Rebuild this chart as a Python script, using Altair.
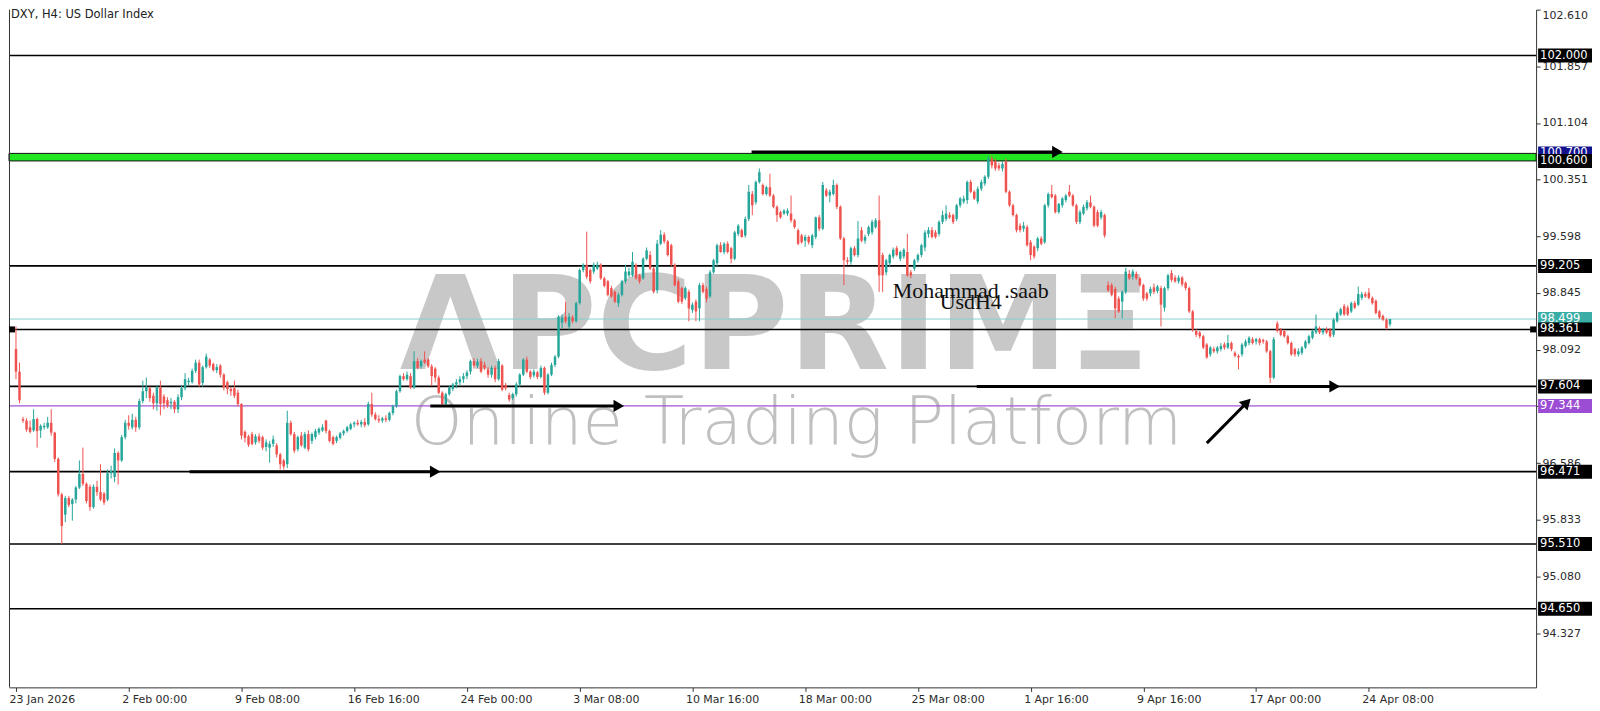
import altair as alt
import pandas as pd

# ---------------- candle data (open, high, low, close), H4 bars ----------------
seg_late_jan = [
    (98.10, 98.40, 97.70, 97.80), (97.80, 97.92, 97.38, 97.42), (97.17, 97.20, 97.12, 97.15),
    (97.15, 97.18, 97.00, 97.03), (97.06, 97.15, 96.98, 97.00), (97.02, 97.30, 97.00, 97.17),
    (97.17, 97.19, 96.79, 97.01), (97.02, 97.10, 96.92, 97.08), (97.06, 97.12, 97.03, 97.08),
    (97.06, 97.20, 97.04, 97.12), (97.12, 97.30, 96.95, 96.99), (96.99, 97.00, 96.60, 96.64),
    (96.64, 96.66, 96.14, 96.17), (96.17, 96.19, 95.51, 95.75), (95.90, 96.15, 95.80, 96.12),
    (96.12, 96.15, 96.00, 96.03), (96.04, 96.12, 95.82, 96.10), (96.10, 96.28, 96.05, 96.26),
    (96.26, 96.62, 96.24, 96.44), (96.44, 96.79, 96.28, 96.31), (96.31, 96.33, 96.05, 96.08),
    (96.27, 96.30, 95.95, 96.00), (96.00, 96.30, 95.98, 96.27), (96.27, 96.35, 96.15, 96.20),
    (96.20, 96.57, 96.08, 96.10), (96.18, 96.20, 96.03, 96.06), (96.10, 96.50, 96.08, 96.45),
    (96.45, 96.55, 96.38, 96.48), (96.40, 96.78, 96.33, 96.72), (96.72, 96.74, 96.30, 96.62),
    (96.62, 96.96, 96.60, 96.93), (96.93, 97.16, 96.90, 97.12), (97.12, 97.22, 97.03, 97.08),
    (97.06, 97.24, 97.03, 97.16), (97.16, 97.20, 97.00, 97.06), (97.06, 97.44, 97.03, 97.41),
    (97.41, 97.68, 97.38, 97.54), (97.54, 97.72, 97.45, 97.60), (97.58, 97.60, 97.40, 97.45),
    (97.48, 97.52, 97.30, 97.38), (97.38, 97.62, 97.28, 97.59), (97.59, 97.68, 97.22, 97.37),
    (97.47, 97.50, 97.30, 97.38), (97.42, 97.46, 97.32, 97.35), (97.38, 97.45, 97.30, 97.40),
    (97.40, 97.42, 97.25, 97.30), (97.30, 97.50, 97.25, 97.46), (97.46, 97.62, 97.42, 97.58),
    (97.58, 97.78, 97.55, 97.70), (97.66, 97.72, 97.62, 97.68), (97.66, 97.84, 97.64, 97.81),
    (97.81, 97.96, 97.78, 97.92), (97.92, 97.96, 97.60, 97.63), (97.65, 97.88, 97.60, 97.86),
    (97.86, 98.04, 97.84, 98.00), (97.96, 97.98, 97.85, 97.88), (97.90, 97.92, 97.80, 97.82),
    (97.82, 97.90, 97.78, 97.86), (97.88, 97.90, 97.72, 97.76), (97.76, 97.78, 97.55, 97.59),
    (97.66, 97.68, 97.50, 97.57), (97.57, 97.60, 97.48, 97.54), (97.58, 97.68, 97.45, 97.48),
    (97.52, 97.56, 97.34, 97.37), (97.37, 97.38, 96.90, 96.95), (97.00, 97.02, 96.86, 96.92),
    (96.94, 96.96, 96.80, 96.83),
]
seg_feb = [
    (96.97, 97.00, 96.82, 96.84), (96.86, 96.97, 96.83, 96.94), (96.94, 96.98, 96.85, 96.88),
    (96.93, 96.95, 96.76, 96.79), (96.80, 96.90, 96.74, 96.86), (96.79, 96.88, 96.59, 96.84),
    (96.84, 96.95, 96.80, 96.90), (96.82, 96.85, 96.66, 96.70), (96.70, 96.72, 96.50, 96.57),
    (96.62, 96.64, 96.50, 96.54), (96.57, 97.28, 96.52, 97.12), (97.12, 97.15, 96.95, 96.97),
    (96.97, 97.00, 96.72, 96.75), (96.77, 96.95, 96.74, 96.93), (96.95, 97.00, 96.80, 96.82),
    (96.79, 97.00, 96.77, 96.97), (96.97, 97.02, 96.74, 96.77), (96.88, 96.99, 96.84, 96.97),
    (96.93, 97.04, 96.90, 97.01), (96.99, 97.06, 96.96, 97.04), (97.02, 97.10, 97.00, 97.06),
    (97.15, 97.16, 96.98, 97.01), (97.01, 97.03, 96.86, 96.88), (96.93, 96.95, 96.82, 96.84),
    (96.88, 96.95, 96.85, 96.93), (96.92, 97.00, 96.90, 96.98), (96.98, 97.03, 96.95, 97.01),
    (97.01, 97.08, 96.99, 97.06), (97.04, 97.12, 97.02, 97.10), (97.10, 97.14, 97.06, 97.12),
    (97.12, 97.16, 97.08, 97.10), (97.10, 97.16, 97.06, 97.13), (97.13, 97.18, 97.06, 97.09),
    (97.10, 97.40, 97.08, 97.37), (97.37, 97.52, 97.20, 97.23), (97.23, 97.26, 97.15, 97.17),
    (97.17, 97.22, 97.12, 97.15), (97.15, 97.20, 97.12, 97.18), (97.18, 97.22, 97.13, 97.16),
    (97.16, 97.27, 97.14, 97.25), (97.25, 97.36, 97.22, 97.34), (97.34, 97.56, 97.32, 97.54),
    (97.54, 97.76, 97.52, 97.74), (97.74, 97.78, 97.68, 97.70), (97.70, 97.80, 97.68, 97.76),
    (97.74, 97.78, 97.57, 97.59), (97.59, 98.07, 97.57, 97.94), (97.94, 97.98, 97.83, 97.85),
    (97.87, 97.96, 97.84, 97.94), (97.96, 98.07, 97.90, 97.92), (97.96, 97.98, 97.85, 97.87),
    (97.87, 97.90, 97.61, 97.74), (97.84, 97.86, 97.66, 97.72), (97.72, 97.75, 97.50, 97.52),
    (97.52, 97.54, 97.34, 97.37), (97.37, 97.52, 97.33, 97.50), (97.50, 97.61, 97.48, 97.59),
    (97.57, 97.65, 97.54, 97.63), (97.63, 97.70, 97.58, 97.66), (97.66, 97.74, 97.62, 97.70),
    (97.70, 97.78, 97.65, 97.74), (97.74, 97.82, 97.70, 97.79), (97.80, 97.96, 97.76, 97.94),
    (97.94, 97.98, 97.84, 97.88), (97.88, 97.97, 97.85, 97.93),
]
seg_early_mar = [
    (97.94, 97.98, 97.78, 97.80), (97.89, 97.93, 97.82, 97.85), (97.83, 97.86, 97.72, 97.76),
    (97.76, 97.88, 97.72, 97.85), (97.85, 97.88, 97.66, 97.70), (97.70, 97.97, 97.68, 97.94),
    (97.88, 97.90, 97.54, 97.56), (97.62, 97.65, 97.55, 97.58), (97.49, 97.52, 97.40, 97.43),
    (97.45, 97.52, 97.42, 97.50), (97.50, 97.66, 97.47, 97.63), (97.63, 97.78, 97.60, 97.76),
    (97.76, 97.98, 97.74, 97.96), (97.96, 98.00, 97.78, 97.80), (97.80, 97.82, 97.70, 97.73),
    (97.75, 97.83, 97.72, 97.80), (97.79, 97.81, 97.70, 97.73), (97.73, 97.88, 97.71, 97.85),
    (97.85, 97.87, 97.49, 97.52), (97.52, 97.78, 97.50, 97.76), (97.76, 97.92, 97.74, 97.89),
    (97.89, 98.02, 97.86, 98.00), (98.00, 98.55, 97.98, 98.53), (98.45, 98.56, 98.38, 98.52),
    (98.53, 98.73, 98.44, 98.47), (98.40, 98.58, 98.36, 98.53), (98.52, 98.55, 98.44, 98.47),
    (98.47, 98.73, 98.45, 98.71), (98.71, 99.17, 98.69, 99.15), (99.15, 99.24, 99.12, 99.22),
    (99.22, 99.66, 99.03, 99.06), (99.15, 99.17, 98.97, 99.00), (99.13, 99.25, 99.10, 99.22),
    (99.17, 99.26, 99.15, 99.22), (99.22, 99.24, 99.02, 99.04), (99.04, 99.06, 98.92, 98.94),
    (99.00, 99.02, 98.80, 98.82), (98.91, 98.94, 98.78, 98.80), (98.86, 98.88, 98.71, 98.73),
    (98.71, 98.85, 98.66, 98.82), (98.82, 99.02, 98.80, 99.00), (99.00, 99.22, 98.97, 99.13),
    (99.08, 99.18, 99.05, 99.13), (99.08, 99.39, 99.06, 99.26), (99.22, 99.24, 99.02, 99.04),
    (99.08, 99.10, 98.97, 99.00), (99.04, 99.32, 99.02, 99.30), (99.30, 99.45, 99.28, 99.41),
    (99.35, 99.40, 99.15, 99.17), (99.17, 99.19, 98.84, 98.86), (98.88, 99.55, 98.84, 99.50),
    (99.50, 99.68, 99.48, 99.62), (99.62, 99.65, 99.50, 99.53), (99.53, 99.55, 99.33, 99.35),
    (99.48, 99.50, 99.20, 99.22), (99.22, 99.24, 98.93, 98.95), (99.00, 99.03, 98.71, 98.73),
    (98.91, 98.93, 98.70, 98.73), (98.78, 98.93, 98.75, 98.91), (98.86, 98.89, 98.47, 98.64),
    (98.62, 98.72, 98.58, 98.69), (98.73, 98.76, 98.47, 98.60), (98.64, 98.98, 98.47, 98.95),
    (98.95, 98.98, 98.84, 98.86), (98.90, 98.93, 98.72, 98.77),
]
seg_mid_mar = [
    (98.80, 99.15, 98.78, 99.12), (99.12, 99.30, 99.10, 99.28), (99.24, 99.50, 99.20, 99.48),
    (99.48, 99.52, 99.38, 99.39), (99.39, 99.52, 99.36, 99.50), (99.50, 99.53, 99.37, 99.39),
    (99.44, 99.46, 99.24, 99.30), (99.30, 99.67, 99.28, 99.65), (99.63, 99.76, 99.60, 99.74),
    (99.68, 99.70, 99.58, 99.59), (99.61, 99.86, 99.58, 99.83), (99.83, 100.28, 99.80, 100.19),
    (100.16, 100.20, 99.88, 100.01), (100.05, 100.34, 100.02, 100.32), (100.32, 100.50, 100.30, 100.45),
    (100.28, 100.30, 100.14, 100.16), (100.16, 100.27, 100.14, 100.25), (100.25, 100.43, 100.12, 100.14),
    (100.14, 100.16, 99.97, 99.99), (99.99, 100.01, 99.79, 99.88), (99.92, 99.94, 99.83, 99.85),
    (99.90, 99.96, 99.88, 99.94), (99.90, 99.97, 99.87, 99.94), (99.90, 100.14, 99.78, 99.81),
    (99.81, 99.83, 99.70, 99.72), (99.68, 99.70, 99.48, 99.50), (99.61, 99.63, 99.50, 99.52),
    (99.54, 99.62, 99.46, 99.59), (99.59, 99.61, 99.49, 99.52), (99.48, 99.63, 99.44, 99.61),
    (99.59, 99.86, 99.56, 99.85), (99.85, 99.88, 99.67, 99.70), (99.70, 100.32, 99.68, 100.28),
    (100.21, 100.24, 100.12, 100.14), (100.14, 100.22, 100.05, 100.19), (100.16, 100.35, 100.14, 100.28),
    (100.28, 100.30, 99.96, 99.99), (99.99, 100.01, 99.55, 99.57), (99.57, 99.59, 98.95, 99.28),
    (99.28, 99.32, 99.22, 99.26), (99.26, 99.46, 99.22, 99.44), (99.44, 99.47, 99.33, 99.35),
    (99.35, 99.80, 99.32, 99.57), (99.68, 99.72, 99.52, 99.54), (99.54, 99.62, 99.50, 99.59),
    (99.63, 99.74, 99.60, 99.72), (99.65, 99.82, 99.62, 99.79), (99.72, 99.84, 99.70, 99.81),
    (99.81, 100.14, 98.86, 99.08), (99.35, 99.38, 98.86, 99.08), (99.12, 99.30, 99.08, 99.28),
    (99.24, 99.37, 99.20, 99.35), (99.33, 99.45, 99.30, 99.42), (99.44, 99.47, 99.33, 99.35),
    (99.30, 99.41, 99.27, 99.39), (99.33, 99.44, 99.30, 99.42), (99.39, 99.63, 99.06, 99.08),
    (99.12, 99.15, 99.04, 99.08), (99.17, 99.30, 99.14, 99.28), (99.28, 99.37, 99.25, 99.35),
    (99.35, 99.50, 99.32, 99.48), (99.45, 99.68, 99.40, 99.65), (99.63, 99.72, 99.58, 99.68),
    (99.68, 99.72, 99.57, 99.59),
]
seg_late_mar = [
    (99.65, 99.68, 99.57, 99.59), (99.63, 99.81, 99.60, 99.79), (99.79, 99.94, 99.76, 99.88),
    (99.83, 100.01, 99.80, 99.90), (99.88, 99.92, 99.83, 99.85), (99.88, 99.90, 99.76, 99.79),
    (99.83, 100.03, 99.80, 100.01), (100.01, 100.12, 99.98, 100.10), (100.06, 100.14, 100.03, 100.10),
    (100.08, 100.34, 100.03, 100.32), (100.32, 100.35, 100.17, 100.19), (100.19, 100.21, 100.08, 100.10),
    (100.06, 100.26, 100.03, 100.23), (100.23, 100.35, 100.20, 100.32), (100.30, 100.41, 100.27, 100.39),
    (100.39, 100.67, 100.36, 100.63), (100.63, 100.67, 100.50, 100.54), (100.59, 100.63, 100.47, 100.50),
    (100.54, 100.57, 100.47, 100.50), (100.50, 100.60, 100.46, 100.56), (100.59, 100.63, 100.17, 100.19),
    (100.19, 100.21, 99.99, 100.01), (100.01, 100.03, 99.86, 99.88), (99.88, 99.90, 99.65, 99.68),
    (99.74, 99.77, 99.65, 99.68), (99.70, 99.79, 99.66, 99.74), (99.72, 99.75, 99.46, 99.48),
    (99.52, 99.55, 99.28, 99.35), (99.46, 99.48, 99.30, 99.33), (99.44, 99.59, 99.40, 99.57),
    (99.57, 99.60, 99.48, 99.50), (99.52, 100.03, 99.50, 100.01), (100.01, 100.18, 99.98, 100.16),
    (100.16, 100.28, 100.10, 100.12), (100.14, 100.16, 99.90, 99.92), (99.92, 100.04, 99.90, 100.03),
    (100.01, 100.12, 99.98, 100.10), (100.08, 100.16, 100.05, 100.14), (100.19, 100.28, 100.12, 100.14),
    (100.14, 100.16, 99.99, 100.01), (100.01, 100.03, 99.76, 99.79), (99.79, 99.95, 99.76, 99.92),
    (99.90, 100.02, 99.88, 99.99), (99.97, 100.08, 99.94, 100.05), (100.05, 100.14, 99.97, 99.99),
    (99.99, 100.01, 99.72, 99.74), (99.92, 99.95, 99.72, 99.74), (99.85, 99.95, 99.82, 99.92),
    (99.88, 99.90, 99.58, 99.61), (98.95, 99.00, 98.86, 98.88), (98.95, 98.98, 98.80, 98.82),
    (98.90, 98.93, 98.51, 98.64), (98.77, 98.80, 98.58, 98.60), (98.73, 98.88, 98.51, 98.86),
    (98.86, 99.18, 98.83, 99.13), (99.10, 99.15, 99.02, 99.04), (99.06, 99.16, 99.02, 99.13),
    (99.10, 99.13, 99.02, 99.04), (99.04, 99.06, 98.93, 98.95), (98.95, 98.97, 98.74, 98.77),
    (98.84, 98.86, 98.74, 98.77), (98.84, 98.93, 98.80, 98.90), (98.92, 98.97, 98.83, 98.86),
    (98.87, 98.95, 98.84, 98.93), (98.91, 98.94, 98.40, 98.69),
]
seg_april = [
    (98.65, 98.93, 98.60, 98.91), (98.91, 99.10, 98.88, 99.08), (99.11, 99.15, 98.99, 99.02),
    (99.05, 99.08, 98.98, 99.00), (99.00, 99.08, 98.97, 99.05), (99.05, 99.07, 98.93, 98.96),
    (98.98, 99.00, 98.88, 98.91), (98.91, 98.93, 98.58, 98.60), (98.60, 98.62, 98.33, 98.36),
    (98.34, 98.37, 98.26, 98.29), (98.32, 98.34, 98.24, 98.27), (98.27, 98.29, 98.10, 98.12),
    (98.16, 98.18, 97.97, 97.99), (98.03, 98.14, 98.00, 98.12), (98.10, 98.13, 98.05, 98.07),
    (98.07, 98.14, 98.04, 98.12), (98.10, 98.18, 98.07, 98.14), (98.16, 98.19, 98.09, 98.12),
    (98.12, 98.29, 98.10, 98.18), (98.18, 98.20, 98.07, 98.10), (98.05, 98.07, 97.99, 98.01),
    (98.01, 98.03, 97.83, 97.99), (98.03, 98.18, 98.00, 98.16), (98.14, 98.23, 98.12, 98.20),
    (98.18, 98.27, 98.15, 98.25), (98.23, 98.26, 98.16, 98.18), (98.20, 98.25, 98.16, 98.23),
    (98.23, 98.25, 98.15, 98.18), (98.22, 98.24, 98.17, 98.20), (98.20, 98.22, 98.05, 98.07),
    (98.07, 98.09, 97.65, 97.72), (97.72, 98.26, 97.70, 98.23), (98.44, 98.47, 98.32, 98.34),
    (98.36, 98.38, 98.27, 98.29), (98.34, 98.36, 98.25, 98.27), (98.27, 98.29, 98.16, 98.18),
    (98.18, 98.20, 98.01, 98.03), (98.10, 98.12, 98.00, 98.03), (98.03, 98.11, 98.00, 98.07),
    (98.05, 98.14, 98.02, 98.12), (98.12, 98.22, 98.10, 98.20), (98.18, 98.29, 98.16, 98.27),
    (98.25, 98.36, 98.23, 98.34), (98.32, 98.56, 98.30, 98.40), (98.38, 98.40, 98.30, 98.32),
    (98.32, 98.38, 98.29, 98.36), (98.36, 98.39, 98.30, 98.32), (98.36, 98.38, 98.25, 98.27),
    (98.29, 98.51, 98.26, 98.49), (98.47, 98.60, 98.45, 98.58), (98.56, 98.65, 98.54, 98.63),
    (98.67, 98.70, 98.54, 98.56), (98.65, 98.68, 98.54, 98.56), (98.60, 98.73, 98.58, 98.71),
    (98.71, 98.74, 98.63, 98.65), (98.69, 98.93, 98.67, 98.83), (98.78, 98.86, 98.75, 98.83),
    (98.83, 98.86, 98.78, 98.80), (98.85, 98.91, 98.76, 98.78), (98.78, 98.80, 98.69, 98.71),
    (98.74, 98.76, 98.56, 98.58), (98.60, 98.62, 98.50, 98.52), (98.54, 98.56, 98.47, 98.49),
    (98.49, 98.51, 98.36, 98.38), (98.43, 98.50, 98.40, 98.499),
]

date_labels = ["23 Jan 2026", "2 Feb 00:00", "9 Feb 08:00", "16 Feb 16:00", "24 Feb 00:00",
               "3 Mar 08:00", "10 Mar 16:00", "18 Mar 00:00", "25 Mar 08:00", "1 Apr 16:00",
               "9 Apr 16:00", "17 Apr 00:00", "24 Apr 08:00"]
BARS_PER_LABEL = 32
price_ticks = [94.327, 95.080, 95.833, 96.586, 97.339, 98.092, 98.845, 99.598,
               100.351, 101.104, 101.857, 102.610]
level_prices = [102.000, 99.205, 98.361, 97.604, 96.471, 95.510, 94.650]
band_low, band_high = 100.600, 100.700
current_price = 98.499
purple_price = 97.344
box_prices = [102.000, 100.700, 100.600, 99.205, 98.499, 98.361, 97.604, 97.344, 96.471, 95.510, 94.650]
box_fills = ["#000000", "#12128e", "#000000", "#000000", "#3aaea6", "#000000", "#000000",
             "#9b4dd4", "#000000", "#000000", "#000000"]
box_behind = [False, True, False, False, True, False, False, False, False, False, False]
arrow_x0 = [208.8, 117.6, 49.3, 272.7, 338.0]
arrow_x1 = [295.6, 171.1, 119.0, 374.3, 349.4]
arrow_y0 = [100.720, 97.344, 96.471, 97.604, 96.850]
arrow_y1 = [100.720, 97.344, 96.471, 97.604, 97.390]
arrow_angle = [0, 0, 0, 0, 315]
note_lines = ["Mohammad .saab", "UsdH4"]
note_bar = 271
note_prices = [98.785, 98.626]

# ---------------- layout ----------------
W, H = 1530, 679
Y_MAX = 102.61
PX_PER_UNIT = 75.4
Y_MIN = Y_MAX - H / PX_PER_UNIT
PX_PER_BAR = 3.553
X_MIN = -0.563
X_MAX = X_MIN + W / PX_PER_BAR

GREEN = "#26a69a"
RED = "#ef5350"

ohlc = seg_late_jan + seg_feb + seg_early_mar + seg_mid_mar + seg_late_mar + seg_april
candles = pd.DataFrame(ohlc, columns=["open", "high", "low", "close"])
candles["bar"] = range(len(candles))
candles["dir"] = ["up" if c >= o else "down" for o, c in zip(candles["open"], candles["close"])]

xs = alt.Scale(domain=[X_MIN, X_MAX], nice=False, zero=False)
ys = alt.Scale(domain=[Y_MIN, Y_MAX], nice=False, zero=False)

label_array = "[" + ",".join("'" + s + "'" for s in date_labels) + "]"
x_axis = alt.Axis(
    values=[BARS_PER_LABEL * k for k in range(len(date_labels))],
    labelExpr=label_array + "[round(datum.value / " + str(BARS_PER_LABEL) + ")]",
    labelAlign="left", labelBaseline="top", labelPadding=2, labelOverlap=False, labelFlush=False,
    labelOffset=-7,
    labelFont="DejaVu Sans", labelFontSize=11, labelColor="#2b2b2b",
    tickSize=4, tickColor="#333333", domainColor="#333333", domainWidth=1,
    grid=False, title=None,
)
y_axis = alt.Axis(
    orient="right", values=price_ticks, format=".3f", labelFlush=True, labelOverlap=False,
    labelFont="DejaVu Sans", labelFontSize=11, labelColor="#2b2b2b", labelPadding=2,
    tickSize=4, tickColor="#333333", domainColor="#333333", domainWidth=1,
    grid=False, title=None,
)


def X(f):
    return alt.X(f, type="quantitative", scale=xs, axis=x_axis)


def Y(f):
    return alt.Y(f, type="quantitative", scale=ys, axis=y_axis)


dir_color = alt.Color("dir:N", scale=alt.Scale(domain=["up", "down"], range=[GREEN, RED]), legend=None)

one = pd.DataFrame({"a": [0]})

# watermark
wm = pd.DataFrame({"bar": [215.5, 221.5], "price": [97.830, 96.836],
                   "text": ["ΛPCPRIMΞ", "Online Trading Platform"]})
wm_big = alt.Chart(wm.iloc[[0]]).mark_text(
    font="DejaVu Sans", fontWeight="bold", fontSize=131, color="#c8c8c8",
    align="center", baseline="alphabetic").encode(x=X("bar"), y=Y("price"), text="text:N")
wm_small = alt.Chart(wm.iloc[[1]]).mark_text(
    font="DejaVu Sans", fontWeight=200, fontSize=66, color="#c0c0c0",
    align="center", baseline="alphabetic").encode(x=X("bar"), y=Y("price"), text="text:N")

band = alt.Chart(pd.DataFrame({"lo": [band_low], "hi": [band_high]})).mark_rect(
    fill="#22e622", stroke="#111111", strokeWidth=1).encode(
    x=alt.value(0), x2=alt.value(W), y=Y("lo"), y2="hi")

levels = alt.Chart(pd.DataFrame({"price": level_prices})).mark_rule(
    color="#000000", strokeWidth=1.6).encode(x=alt.value(0), x2=alt.value(W), y=Y("price"))
cur_line = alt.Chart(pd.DataFrame({"price": [current_price]})).mark_rule(
    color="#8acccc", strokeWidth=1).encode(x=alt.value(0), x2=alt.value(W), y=Y("price"))
purple_line = alt.Chart(pd.DataFrame({"price": [purple_price]})).mark_rule(
    color="#a055d8", strokeWidth=1.3).encode(x=alt.value(0), x2=alt.value(W), y=Y("price"))

left_border = alt.Chart(one).mark_rule(color="#333333", strokeWidth=1).encode(
    x=alt.value(0.5), y=alt.value(0), y2=alt.value(H))

wicks = alt.Chart(candles).mark_rule(strokeWidth=1).encode(
    x=X("bar"), y=Y("low"), y2="high", color=dir_color)
bodies = alt.Chart(candles).mark_bar(size=2.5, orient="vertical").encode(
    x=X("bar"), y=Y("open"), y2="close", color=dir_color)

arrows = pd.DataFrame({"x0": arrow_x0, "x1": arrow_x1, "y0": arrow_y0, "y1": arrow_y1, "ang": arrow_angle})
arrow_lines = alt.Chart(arrows).mark_rule(color="#000000", strokeWidth=3).encode(
    x=X("x0"), x2="x1", y=Y("y0"), y2="y1")
arrow_heads = alt.Chart(arrows).mark_point(
    shape="triangle-right", filled=True, color="#000000", opacity=1, size=150).encode(
    x=X("x1"), y=Y("y1"), angle=alt.Angle("ang:Q", scale=None))

notes = pd.DataFrame({"bar": [note_bar, note_bar], "price": note_prices, "text": note_lines})
note_text = alt.Chart(notes).mark_text(
    font="Liberation Serif", fontSize=22, color="#111111", align="center", baseline="alphabetic").encode(
    x=X("bar"), y=Y("price"), text="text:N")

half = 7.0 / PX_PER_UNIT
boxes = pd.DataFrame({"price": box_prices, "fill": box_fills, "behind": box_behind})
boxes["label"] = [f"{p:.3f}" for p in box_prices]
boxes["top"] = boxes["price"] + half
boxes["bot"] = boxes["price"] - half


def box_layers(df):
    r = alt.Chart(df).mark_rect().encode(
        x=alt.value(W + 2), x2=alt.value(W + 56), y=Y("top"), y2="bot",
        color=alt.Color("fill:N", scale=None))
    t = alt.Chart(df).mark_text(
        align="left", baseline="middle", color="#ffffff", font="DejaVu Sans", fontSize=11.5).encode(
        x=alt.value(W + 4), y=Y("price"), text="label:N")
    return [r, t]


back_boxes = box_layers(boxes[boxes["behind"]].reset_index(drop=True))
front_boxes = box_layers(boxes[~boxes["behind"]].reset_index(drop=True))

marker_df = pd.DataFrame({"price": [98.361]})
marker_l = alt.Chart(marker_df).mark_square(size=36, color="#000000", opacity=1).encode(
    x=alt.value(3), y=Y("price"))
marker_r = alt.Chart(marker_df).mark_square(size=36, color="#000000", opacity=1).encode(
    x=alt.value(W - 3), y=Y("price"))

title = alt.Chart(pd.DataFrame({"t": ["DXY, H4:  US Dollar Index"]})).mark_text(
    align="left", baseline="middle", font="DejaVu Sans", fontSize=11.5, color="#222222").encode(
    x=alt.value(2), y=alt.value(5), text="t:N")

chart = alt.layer(
    wm_big, wm_small, band, levels, cur_line, purple_line, left_border,
    wicks, bodies, arrow_lines, arrow_heads, note_text,
    *back_boxes, *front_boxes, marker_l, marker_r, title,
).properties(
    width=W, height=H, padding={"left": 0, "top": 0, "right": 0, "bottom": 0},
    background="#ffffff",
).configure_view(stroke=None)

chart.save("out.html", embed_options={"renderer": "svg", "actions": False})
